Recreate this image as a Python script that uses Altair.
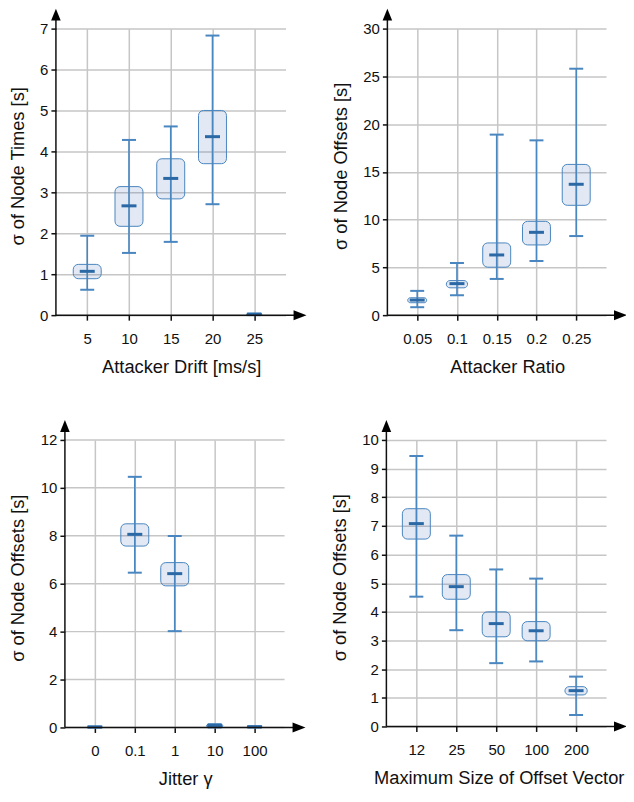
import json
import numpy as np
import pandas as pd
import altair as alt

FONT = "Liberation Sans"
WHISKER = "#4a86bf"
MEDIAN = "#2b69a6"
BOXFILL = "#3c6eb4"
AXIS = "#111111"
GRID = "#c6c6c6"

# ---- data ----
drift_cats = ["5", "10", "15", "20", "25"]
drift_min = [0.62, 1.52, 1.79, 2.71, 0.00]
drift_q1 = [0.89, 2.17, 2.84, 3.70, 0.00]
drift_med = [1.07, 2.67, 3.34, 4.36, 0.02]
drift_q3 = [1.24, 3.14, 3.82, 5.00, 0.03]
drift_max = [1.94, 4.28, 4.61, 6.83, 0.04]

ratio_cats = ["0.05", "0.1", "0.15", "0.2", "0.25"]
ratio_min = [0.83, 2.09, 3.79, 5.67, 8.28]
ratio_q1 = [1.30, 2.86, 5.02, 7.35, 11.50]
ratio_med = [1.58, 3.30, 6.30, 8.67, 13.70]
ratio_q3 = [1.82, 3.62, 7.56, 9.82, 15.78]
ratio_max = [2.54, 5.46, 18.90, 18.30, 25.80]

jitter_cats = ["0", "0.1", "1", "10", "100"]
jitter_min = [0.00, 6.46, 4.02, 0.00, 0.00]
jitter_q1 = [0.00, 7.57, 5.91, 0.02, 0.00]
jitter_med = [0.02, 8.06, 6.42, 0.08, 0.03]
jitter_q3 = [0.03, 8.50, 6.88, 0.12, 0.04]
jitter_max = [0.04, 10.46, 7.99, 0.14, 0.05]

vec_cats = ["12", "25", "50", "100", "200"]
vec_min = [4.53, 3.36, 2.21, 2.27, 0.40]
vec_q1 = [6.54, 4.44, 3.13, 2.99, 1.10]
vec_med = [7.08, 4.88, 3.59, 3.34, 1.25]
vec_q3 = [7.60, 5.30, 4.00, 3.66, 1.39]
vec_max = [9.44, 6.66, 5.48, 5.16, 1.74]


def panel(cats, mins, q1s, meds, q3s, maxs, ymax, ystep, xtitle, ytitle,
          w, h, ytitle_pad=12, inset=0, xtitle_shift=0):
    n = len(cats)
    pad = 0.75
    wd = w - inset                      # width of the data region
    step = wd / (n - 1 + 2 * pad)
    df = pd.DataFrame({"idx": list(range(n)), "lo": mins, "q1": q1s,
                       "med": meds, "q3": q3s, "hi": maxs})
    box_px = (df["q3"] - df["q1"]) * h / ymax
    box_w = (14 + box_px).clip(upper=28)
    df["x1"] = df["idx"] - box_w / 2 / step
    df["x2"] = df["idx"] + box_w / 2 / step

    xscale = alt.Scale(domain=[-pad - inset / step, n - 1 + pad], nice=False, zero=False)
    yscale = alt.Scale(domain=[0, ymax], nice=False, zero=True)
    xaxis = alt.Axis(values=list(range(n)), tickCount=n + 2,
                     labelExpr=json.dumps(cats) + "[datum.value]",
                     title=xtitle, grid=True, ticks=True, tickSize=5,
                     labelPadding=11, titlePadding=12.5,
                     titleX=inset + (wd + 21) / 2 + xtitle_shift,
                     labelOverlap=False)
    yvals = [int(v) for v in np.arange(0, ymax + ystep / 2, ystep)]
    yaxis_kw = dict(values=yvals, tickCount=len(yvals) + 2, format="d",
                    title=ytitle, grid=(inset == 0), ticks=True, tickSize=5,
                    labelPadding=3, titlePadding=ytitle_pad, titleY=h / 2 - 6,
                    labelOverlap=False)
    if inset:
        yaxis_kw["offset"] = -inset
    yaxis = alt.Axis(**yaxis_kw)

    X = lambda f: alt.X(f, scale=xscale, axis=xaxis)
    Y = lambda f: alt.Y(f, scale=yscale, axis=yaxis)

    base = alt.Chart(df)
    layers = []
    if inset:
        gdf = pd.DataFrame({"g": yvals})
        layers.append(alt.Chart(gdf).mark_rule(color=GRID, strokeWidth=1.5).encode(
            y=Y("g:Q"), x=alt.value(inset), x2=alt.value(w)))
    box = base.mark_rect(cornerRadius=5, fill=BOXFILL, fillOpacity=0.15,
                         stroke=WHISKER, strokeWidth=1).encode(
        x=X("x1:Q"), x2="x2", y=Y("q1:Q"), y2="q3")
    whisk = base.mark_rule(color=WHISKER, strokeWidth=1.6).encode(
        x=X("idx:Q"), y=Y("lo:Q"), y2="hi:Q")
    cap_lo = base.mark_tick(orient="horizontal", size=14, thickness=2,
                            color=WHISKER, opacity=1).encode(x=X("idx:Q"), y=Y("lo:Q"))
    cap_hi = base.mark_tick(orient="horizontal", size=14, thickness=2,
                            color=WHISKER, opacity=1).encode(x=X("idx:Q"), y=Y("hi:Q"))
    med = base.mark_tick(orient="horizontal", size=15, thickness=3,
                         color=MEDIAN, opacity=1).encode(x=X("idx:Q"), y=Y("med:Q"))

    one = pd.DataFrame({"k": [0]})
    ax_x = alt.Chart(one).mark_rule(color=AXIS, strokeWidth=1.5).encode(
        x=alt.value(inset), x2=alt.value(w + 16), y=alt.value(h))
    ax_y = alt.Chart(one).mark_rule(color=AXIS, strokeWidth=1.5).encode(
        x=alt.value(inset), y=alt.value(-14), y2=alt.value(h))
    arr_x = alt.Chart(one).mark_point(shape="M-1,-0.77L1,0L-1,0.77Z", size=169,
                                      filled=True, color="#000", opacity=1,
                                      strokeWidth=0).encode(
        x=alt.value(w + 14.5), y=alt.value(h))
    arr_y = alt.Chart(one).mark_point(shape="M-0.8,1L0,-1L0.8,1Z", size=144,
                                      filled=True, color="#000", opacity=1,
                                      strokeWidth=0).encode(
        x=alt.value(inset), y=alt.value(-14))

    layers += [box, whisk, cap_lo, cap_hi, med, ax_x, ax_y, arr_x, arr_y]
    return alt.layer(*layers).properties(width=w, height=h)


p1 = panel(drift_cats, drift_min, drift_q1, drift_med, drift_q3, drift_max,
           7, 1, "Attacker Drift [ms/s]", "σ of Node Times [s]", 230, 287,
           ytitle_pad=12)
p2 = panel(ratio_cats, ratio_min, ratio_q1, ratio_med, ratio_q3, ratio_max,
           30, 5, "Attacker Ratio", "σ of Node Offsets [s]", 219, 287,
           ytitle_pad=12)
# bottom-left panel: its axis sits 9 px further right than the top-left one
p3 = panel(jitter_cats, jitter_min, jitter_q1, jitter_med, jitter_q3, jitter_max,
           12, 2, "Jitter γ", "σ of Node Offsets [s]", 229, 288,
           ytitle_pad=12.6, inset=9)
p4 = panel(vec_cats, vec_min, vec_q1, vec_med, vec_q3, vec_max,
           10, 1, "Maximum Size of Offset Vector", "σ of Node Offsets [s]", 220, 287,
           ytitle_pad=12, xtitle_shift=-8)

row1 = alt.hconcat(p1, p2, spacing=25)
row2 = alt.hconcat(p3, p4, spacing=25)
chart = alt.concat(row1, row2, columns=1, align="none", spacing=44).properties(
    padding={"left": 0, "top": 0, "right": -1, "bottom": 2}
).configure_view(
    stroke=None
).configure_axis(
    labelFont=FONT, titleFont=FONT, labelFontSize=15, titleFontSize=18.3,
    titleFontWeight="normal", labelColor="#111", titleColor="#111",
    gridColor=GRID, gridWidth=1.5, tickColor=AXIS, tickWidth=1.5,
    domain=False
)

chart.save("out.html", embed_options={"renderer": "svg", "actions": False})
